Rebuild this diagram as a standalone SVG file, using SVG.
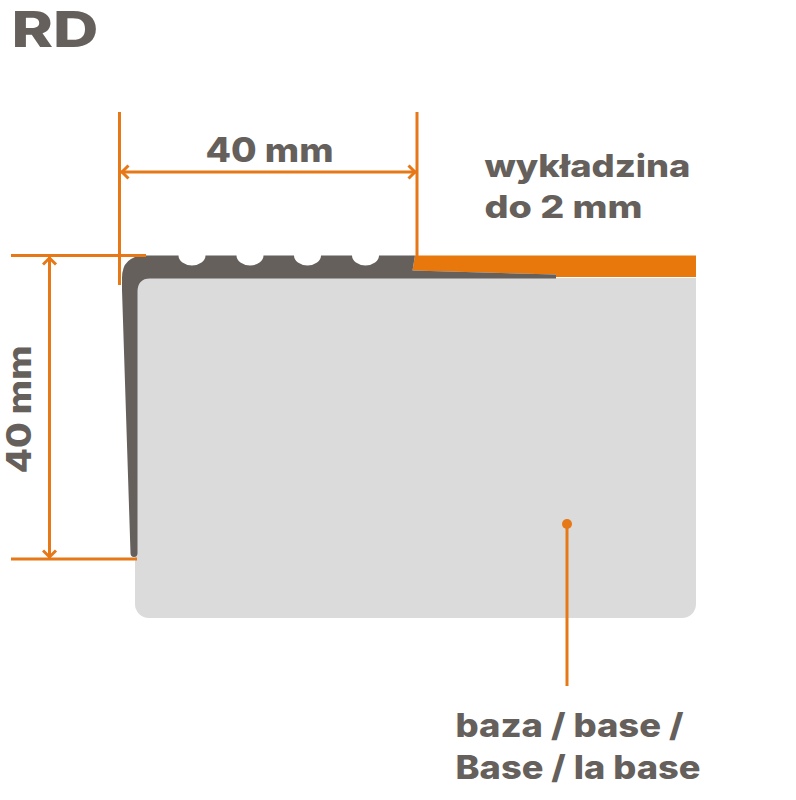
<svg xmlns="http://www.w3.org/2000/svg" width="796" height="800" viewBox="0 0 796 800">
<defs>
<marker id="arr" markerUnits="userSpaceOnUse" markerWidth="14" markerHeight="16" refX="11" refY="8" orient="auto-start-reverse"><path d="M3.500 1.500 L10 8 L3.500 14.500" fill="none" stroke="#e67817" stroke-width="3"/></marker>
</defs>
<style>
.t{font-family:Inter,"Open Sans","Liberation Sans",sans-serif;font-weight:800;fill:#65605c}
.l{stroke:#e67817;stroke-width:3;fill:none}
</style>
<rect width="796" height="800" fill="#fff"/>
<g id="title"><text class="t" x="11.500" y="47" font-size="49" textLength="87" lengthAdjust="spacingAndGlyphs">RD</text></g>
<g id="base"><path d="M149 278H696V604a14 14 0 0 1-14 14H149a14 14 0 0 1-14-14V292a14 14 0 0 1 14-14z" fill="#dbdbdb"/></g>
<g id="carpet"><path d="M415 255.500H696V277H556V274.500L412.500 270.500z" fill="#e8780c"/></g>
<g id="profile"><path d="M145 255.500H178.500a13.500 10 0 0 0 27 0H236.500a13.500 10 0 0 0 27 0H294a13.500 10 0 0 0 27 0H352a13.500 10 0 0 0 27 0H415L412.500 270.500L556 274.500V278.500H150Q137.500 278.500 137.500 292V553Q137.500 557 134 557Q130.500 557 130.500 553L122 290V278Q122 256 145 255.500z" fill="#65605c"/></g>
<g id="connectors">
<path class="l" d="M119.500 112V285M417 112V256M11 255.500H146M11 559H137"/>
<path class="l" d="M121 172H416" marker-start="url(#arr)" marker-end="url(#arr)"/>
<path class="l" d="M49.500 257V558" marker-start="url(#arr)" marker-end="url(#arr)"/>
<path class="l" d="M567 524V686"/>
<circle cx="567" cy="524" r="5" fill="#e67817"/>
</g>
<g id="labels">
<text class="t" x="205.500" y="162" font-size="33.500" textLength="128" lengthAdjust="spacingAndGlyphs">40 mm</text>
<text class="t" transform="translate(30.500 473.500) rotate(-90)" x="0" y="0" font-size="33.500" textLength="128" lengthAdjust="spacingAndGlyphs">40 mm</text>
<text class="t" x="484.500" y="177" font-size="31.500" textLength="206" lengthAdjust="spacingAndGlyphs">wykładzina</text>
<text class="t" x="484.500" y="218" font-size="31.500" textLength="158" lengthAdjust="spacingAndGlyphs">do 2 mm</text>
<text class="t" x="455.500" y="737" font-size="32.500" textLength="228" lengthAdjust="spacingAndGlyphs">baza / base /</text>
<text class="t" x="455.500" y="779" font-size="32.500" textLength="245" lengthAdjust="spacingAndGlyphs">Base / la base</text>
</g>
</svg>
